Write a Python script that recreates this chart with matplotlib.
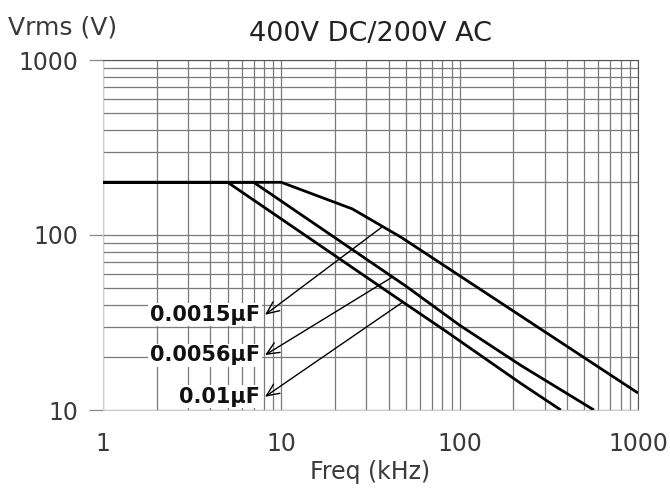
import numpy as np
import matplotlib.pyplot as plt
from matplotlib.ticker import LogLocator, NullFormatter, FixedLocator, FixedFormatter

plt.rcParams['font.family'] = ['DejaVu Sans']

# rated rms voltage vs frequency, one curve per capacitance
freq_0015 = [1, 10, 25, 47, 1000]
vrms_0015 = [200, 200, 141, 97, 12.5]
freq_0056 = [1, 7, 50, 100, 220, 566]
vrms_0056 = [200, 200, 51, 30.5, 18, 10]
freq_01 = [1, 5, 47, 82, 220, 369]
vrms_01 = [200, 200, 42, 28.6, 14.2, 10]

cap_labels = ['0.0015µF', '0.0056µF', '0.01µF']
label_v = [35, 20.6, 11.9]      # where each arrow ends, next to its label
pointer_f = [37, 42, 48]        # where each arrow starts on its curve

x_ticks = [1, 10, 100, 1000]
y_ticks = [10, 100, 1000]

fig = plt.figure(figsize=(6.7, 4.96), dpi=100)
ax = fig.add_axes([103/670, 1 - 410/496, 535/670, 350/496])

curves = [(freq_0015, vrms_0015), (freq_0056, vrms_0056), (freq_01, vrms_01)]
for f, v in curves:
    ax.plot(f, v, color='black', lw=2.0, solid_capstyle='butt', zorder=3)

ax.set_xscale('log')
ax.set_yscale('log')
ax.set_xlim(1, 1000)
ax.set_ylim(10, 1000)

ax.xaxis.set_major_locator(FixedLocator(x_ticks))
ax.xaxis.set_major_formatter(FixedFormatter([str(t) for t in x_ticks]))
ax.yaxis.set_major_locator(FixedLocator(y_ticks))
ax.yaxis.set_major_formatter(FixedFormatter([str(t) for t in y_ticks]))
for axis in (ax.xaxis, ax.yaxis):
    axis.set_minor_locator(LogLocator(base=10, subs=np.arange(2, 10)))
    axis.set_minor_formatter(NullFormatter())

ax.grid(which='both', color='#7a7a7a', lw=0.9)
ax.tick_params(axis='x', which='major', length=0, pad=16, labelsize=17, labelcolor='#3a3a3a')
ax.tick_params(axis='y', which='major', length=10, width=0.9, color='#888888', pad=8,
               labelsize=17, labelcolor='#3a3a3a')
ax.tick_params(which='minor', length=0)

ax.spines['top'].set_color('#555555')
ax.spines['right'].set_color('#555555')
ax.spines['left'].set_color('#cccccc')
ax.spines['bottom'].set_color('#cccccc')

# capacitance labels with arrows pointing back to their curves
for (f, v), name, lv, pf in zip(curves, cap_labels, label_v, pointer_f):
    pv = 10 ** np.interp(np.log10(pf), np.log10(f), np.log10(v))
    ax.annotate('', xy=(8.1, lv), xytext=(pf, pv),
                arrowprops=dict(arrowstyle='->,head_length=0.9,head_width=0.4',
                                lw=1.0, color='black', shrinkA=0, shrinkB=0),
                zorder=4)
    ax.text(7.6, lv, name, ha='right', va='center', fontsize=15, fontweight='bold',
            color='#111111', zorder=5,
            bbox=dict(facecolor='white', edgecolor='none', pad=1))

ax.set_title('400V DC/200V AC', fontsize=19.5, color='#222222', pad=14)
ax.set_xlabel('Freq (kHz)', fontsize=17, color='#3a3a3a', labelpad=3)
fig.text(8/670, 1 - 28/496, 'Vrms (V)', fontsize=18, color='#3a3a3a', va='center', ha='left')

fig.savefig('out.png', dpi=100, facecolor='white')
